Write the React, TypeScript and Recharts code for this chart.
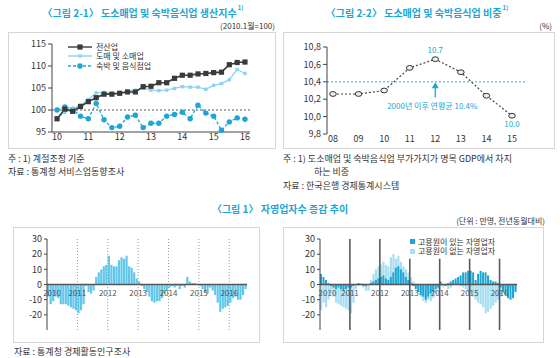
import {
  Bar,
  BarChart,
  LabelList,
  Legend,
  Line,
  LineChart,
  ReferenceLine,
  XAxis,
  YAxis,
} from "recharts"

const FONT = "'Noto Sans CJK KR', 'Noto Sans', sans-serif"
const CYAN = "#1ba6d5"
const LIGHT = "#a9dff3"
const MID = "#62c8eb"
const INK = "#333"
const AXIS = "#444"
const BOX = "#d6d6d6"

// 그림 2-1: 분기별 생산지수 (2010.1월=100)
const QUARTERS = [
  "10.1", "10.2", "10.3", "10.4", "11.1", "11.2", "11.3", "11.4",
  "12.1", "12.2", "12.3", "12.4", "13.1", "13.2", "13.3", "13.4",
  "14.1", "14.2", "14.3", "14.4", "15.1", "15.2", "15.3", "15.4", "16.1",
]
const ALL_INDUSTRY = [
  98.0, 100.2, 99.7, 100.8, 101.9, 102.8, 103.6, 103.6, 103.8, 104.1, 104.1, 105.3,
  105.4, 106.2, 106.2, 107.2, 107.9, 107.9, 108.2, 108.3, 108.5, 108.6, 110.3, 110.8, 110.9,
]
const RETAIL = [
  98.2, 99.5, 100.3, 101.1, 102.4, 103.9, 104.0, 103.7, 103.9, 104.3, 104.5, 104.9,
  104.5, 104.4, 104.5, 104.9, 105.3, 105.2, 105.2, 104.7, 105.6, 106.0, 106.9, 109.2, 108.3,
]
const LODGING = [
  100.0, 100.7, 100.2, 98.6, 98.0, 101.5, 97.8, 96.0, 96.3, 98.4, 98.8, 96.0,
  97.0, 97.0, 98.6, 99.0, 99.5, 98.0, 101.1, 99.3, 98.6, 95.4, 97.3, 98.2, 97.9,
]
const PROD_YEARS = [10, 11, 12, 13, 14, 15, 16]
const PROD_TICKS = [95, 100, 105, 110, 115]

// 그림 2-2: 도소매업 및 숙박음식업 비중 (%)
const SHARE_YEARS = ["08", "09", "10", "11", "12", "13", "14", "15"]
const SHARE = [10.26, 10.26, 10.3, 10.56, 10.66, 10.51, 10.24, 10.01]
const SHARE_AVG = 10.4
const SHARE_TICKS = [9.8, 10.0, 10.2, 10.4, 10.6, 10.8]

// 그림 1: 자영업자수 증감 (만명, 전년동월대비), 2010.01 ~ 2016.07
const YEARS = ["2010", "2011", "2012", "2013", "2014", "2015", "2016"]
const MONTHS = YEARS.flatMap((y) =>
  ["01", "02", "03", "04", "05", "06", "07", "08", "09", "10", "11", "12"].map((m) => `${y}.${m}`)
).slice(0, 79)
const SELF_EMPLOYED = [
  -8, -13, -11, -8, -9, -13, -13, -13, -14, -15, -16, -17,
  -19, -17, -13, -1, -5, -6, -4, 5, 8, 10, 12, 13,
  19, 13, 12, 12, 16, 18, 17, 19, 12, 11, 8, 4,
  2, -1, -3, -5, -8, -11, -12, -11, -11, -9, -6, -4,
  -2, -1, -2, -1, -3, -1, -2, 5, 2, 1, 1, 0,
  -1, -3, -5, -6, -2, -4, -7, -12, -18, -16, -15, -14,
  -12, -9, -8, -10, -10, -7, -3,
]
const WITH_STAFF = [
  7, 5, 3, 1, -1, -2, -3, -2, -3, -4, -3, -2,
  -2, -1, 0, 1, 0, -1, -1, 0, 1, 2, 3, 4,
  5, 6, 4, 3, 5, 8, 11, 12, 10, 8, 5, 3,
  1, -1, -3, -5, -7, -8, -10, -8, -6, -5, -3, -2,
  2, 0, -1, 1, 2, 3, 4, 5, 6, 8, 8, 9,
  9, 8, 3, 7, 9, 8, 8, 6, 3, 2, 2, 1,
  -2, -5, -7, -9, -10, -9, -5,
]
const WITHOUT_STAFF = [
  -17, -12, -15, -10, -6, -8, -12, -13, -14, -15, -16, -17,
  -19, -12, -3, -1, 1, -2, -4, -4, 3, 7, 10, 12,
  13, 15, 13, 12, 18, 20, 17, 19, 15, 12, 10, 8,
  5, 2, -2, -5, -8, -11, -12, -10, -11, -9, -6, -3,
  -1, -2, -1, -3, -2, 0, 1, 2, -1, -2, -3, -5,
  -6, -8, -10, -12, -13, -15, -19, -18, -16, -14, -12, -10,
  -8, -6, -4, -3, -2, -2, -4,
]
const CHANGE_TICKS = [-30, -20, -10, 0, 10, 20, 30]

const PROD_SERIES = [
  { key: "all", name: "전산업", color: "#3a3a3a", dash: undefined as string | undefined, marker: "square" },
  { key: "retail", name: "도매 및 소매업", color: "#8dd3ef", dash: undefined, marker: "small" },
  { key: "lodging", name: "숙박 및 음식점업", color: CYAN, dash: "3 2", marker: "circle" },
]

const toYear = (q: string) => {
  const [y, n] = q.split(".")
  return Number(y) + (Number(n) - 1) / 4
}

const prodData = QUARTERS.map((q, i) => ({
  t: toYear(q),
  all: ALL_INDUSTRY[i],
  retail: RETAIL[i],
  lodging: LODGING[i],
}))
const shareData = SHARE_YEARS.map((year, i) => ({ year, share: SHARE[i] }))
const changeData = MONTHS.map((month, i) => ({
  month,
  total: SELF_EMPLOYED[i],
  withStaff: WITH_STAFF[i],
  withoutStaff: WITHOUT_STAFF[i],
}))

function Note({ x, y, size = 9, color = INK, anchor = "start", weight = 400, children }: any) {
  const tx = anchor === "middle" ? "-50%" : anchor === "end" ? "-100%" : "0"
  return (
    <div
      style={{
        position: "absolute",
        left: x,
        top: y,
        transform: `translate(${tx}, -50%)`,
        fontSize: size,
        color,
        fontWeight: weight,
        whiteSpace: "nowrap",
        lineHeight: 1,
      }}
    >
      {children}
    </div>
  )
}

function Frame({ x, y, w, h }: { x: number; y: number; w: number; h: number }) {
  return (
    <div
      style={{
        position: "absolute",
        left: x,
        top: y,
        width: w,
        height: h,
        border: `1.5px solid ${BOX}`,
        boxSizing: "border-box",
      }}
    />
  )
}

const Sup = () => (
  <span style={{ fontSize: 6, verticalAlign: "top", lineHeight: 0, marginLeft: 1 }}>1)</span>
)

function marker(kind: string, color: string, cx: number, cy: number, key?: any) {
  if (kind === "square") return <rect key={key} x={cx - 2.6} y={cy - 2.6} width={5.2} height={5.2} fill={color} />
  if (kind === "small") return <rect key={key} x={cx - 1.7} y={cy - 1.7} width={3.4} height={3.4} fill={color} />
  return <circle key={key} cx={cx} cy={cy} r={2.7} fill={color} />
}

function ProdLegend() {
  return (
    <div style={{ fontFamily: FONT, fontSize: 8, color: INK }}>
      {PROD_SERIES.map((s) => (
        <div key={s.key} style={{ display: "flex", alignItems: "center", height: 9.5 }}>
          <svg width={24} height={8}>
            <line x1={0} y1={4} x2={24} y2={4} stroke={s.color} strokeWidth={1.4} strokeDasharray={s.dash} />
            {marker(s.marker, s.color, 12, 4)}
          </svg>
          <span style={{ marginLeft: 4, lineHeight: 1 }}>{s.name}</span>
        </div>
      ))}
    </div>
  )
}

function StaffLegend() {
  const rows = [
    { name: "고용원이 있는 자영업자", color: CYAN },
    { name: "고용원이 없는 자영업자", color: LIGHT },
  ]
  return (
    <div style={{ fontFamily: FONT, fontSize: 8, color: INK }}>
      {rows.map((r) => (
        <div key={r.name} style={{ display: "flex", alignItems: "center", height: 9.5 }}>
          <span style={{ width: 5, height: 5, background: r.color, display: "inline-block" }} />
          <span style={{ marginLeft: 3, lineHeight: "8px" }}>{r.name}</span>
        </div>
      ))}
    </div>
  )
}

const EllipseDot = (p: any) => (
  <ellipse key={`e${p.index}`} cx={p.cx} cy={p.cy} rx={3.3} ry={2.4} fill="#eee" stroke="#333" strokeWidth={1} />
)

const ShareLabel = (p: any) => {
  const { x, y, value, index } = p
  if (index !== 4 && index !== 7) return null
  return (
    <text
      x={x}
      y={index === 4 ? y - 6 : y + 11}
      textAnchor="middle"
      fontSize={8}
      fill={CYAN}
      fontFamily={FONT}
    >
      {Number(value).toFixed(1)}
    </text>
  )
}

const ArrowShape = (p: any) => {
  const x = p.x1
  const top = Math.min(p.y1, p.y2)
  const bot = Math.max(p.y1, p.y2)
  return (
    <g>
      <line x1={x} y1={bot} x2={x} y2={top + 5} stroke={CYAN} strokeWidth={1.3} />
      <polygon points={`${x - 3.5},${top + 6} ${x + 3.5},${top + 6} ${x},${top}`} fill={CYAN} />
      <text x={x - 3} y={bot + 12} textAnchor="middle" fontSize={8} fill={CYAN} fontFamily={FONT}>
        2000년 이후 연평균 {SHARE_AVG.toFixed(1)}%
      </text>
    </g>
  )
}

const yearLabel = (text: string, zeroY: number) => (p: any) => (
  <text x={p.viewBox?.x} y={zeroY + 11.5} textAnchor="middle" fontSize={8} fill="#555" fontFamily={FONT}>
    {text}
  </text>
)

const tickStyle = { fontSize: 9, fill: INK, fontFamily: FONT }
// zero line position inside bottom charts: top margin + half plot height
const ZERO_Y = 7 + 91 / 2

function ProductionChart() {
  return (
    <div style={{ position: "absolute", left: 8, top: 36 }}>
      <LineChart width={250} height={112} data={prodData} margin={{ top: 8, right: 8, bottom: 2, left: 0 }}>
        <XAxis
          type="number"
          dataKey="t"
          domain={[9.84, 16.16]}
          ticks={PROD_YEARS}
          height={14}
          tickLine={false}
          tickSize={0}
          tickMargin={2}
          axisLine={{ stroke: AXIS }}
          tick={tickStyle}
        />
        <YAxis
          domain={[95, 115]}
          ticks={PROD_TICKS}
          width={44}
          tickSize={4}
          axisLine={{ stroke: AXIS }}
          tickLine={{ stroke: AXIS }}
          tick={tickStyle}
        />
        <ReferenceLine y={100} stroke="#555" strokeDasharray="2 2" />
        <Legend
          content={<ProdLegend />}
          layout="horizontal"
          verticalAlign="middle"
          align="center"
          wrapperStyle={{ left: 60, top: 6, width: 130 }}
        />
        {[...PROD_SERIES].reverse().map((s) => (
          <Line
            key={s.key}
            dataKey={s.key}
            name={s.name}
            stroke={s.color}
            strokeWidth={s.key === "all" ? 1.6 : 1.3}
            strokeDasharray={s.dash}
            dot={(p: any) => marker(s.marker, s.color, p.cx, p.cy, `${s.key}${p.index}`)}
            activeDot={false}
            isAnimationActive={false}
          />
        ))}
      </LineChart>
    </div>
  )
}

function ShareChart() {
  return (
    <div style={{ position: "absolute", left: 285, top: 38 }}>
      <LineChart width={250} height={112} data={shareData} margin={{ top: 9, right: 10, bottom: 2, left: 0 }}>
        <XAxis
          dataKey="year"
          padding={{ left: 6, right: 13 }}
          height={14}
          axisLine={false}
          tickLine={false}
          tickSize={0}
          tickMargin={2}
          tick={tickStyle}
        />
        <YAxis
          domain={[9.8, 10.8]}
          ticks={SHARE_TICKS}
          width={42}
          tickSize={4}
          axisLine={{ stroke: AXIS }}
          tickLine={{ stroke: AXIS }}
          tick={tickStyle}
          tickFormatter={(v: number) => v.toFixed(1).replace(".", ",")}
        />
        <ReferenceLine y={SHARE_AVG} stroke="#6fcbea" strokeDasharray="2 2" strokeWidth={1.4} />
        <ReferenceLine
          segment={[
            { x: "12", y: 10.22 },
            { x: "12", y: 10.395 },
          ]}
          shape={ArrowShape}
        />
        <Line
          dataKey="share"
          stroke="#444"
          strokeWidth={1.2}
          strokeDasharray="2 2"
          dot={EllipseDot}
          activeDot={false}
          isAnimationActive={false}
        >
          <LabelList dataKey="share" content={ShareLabel} />
        </Line>
      </LineChart>
    </div>
  )
}

function TotalChangeChart() {
  return (
    <div style={{ position: "absolute", left: 14, top: 232 }}>
      <BarChart
        width={236}
        height={102}
        data={changeData}
        margin={{ top: 7, right: 3, bottom: 4, left: 0 }}
        barCategoryGap={0}
      >
        <XAxis dataKey="month" hide />
        <YAxis
          domain={[-30, 30]}
          ticks={CHANGE_TICKS}
          width={33}
          tickSize={3}
          axisLine={{ stroke: AXIS }}
          tickLine={{ stroke: AXIS }}
          tick={tickStyle}
        />
        <Bar dataKey="total" fill={MID} barSize={2.2} isAnimationActive={false} />
        {YEARS.map((y) => (
          <ReferenceLine
            key={y}
            x={y === "2010" ? "2010.03" : `${y}.01`}
            position="start"
            stroke={y === "2010" ? "none" : "#999"}
            strokeDasharray="1 2"
            label={yearLabel(y, ZERO_Y)}
          />
        ))}
        <ReferenceLine y={0} stroke="#555" strokeWidth={1.5} />
      </BarChart>
    </div>
  )
}

function StaffChangeChart() {
  return (
    <div style={{ position: "absolute", left: 285, top: 232 }}>
      <BarChart
        width={235}
        height={102}
        data={changeData}
        margin={{ top: 7, right: 3, bottom: 4, left: 0 }}
        barCategoryGap={0}
      >
        <XAxis dataKey="month" hide />
        <XAxis dataKey="month" xAxisId="dark" hide />
        <YAxis
          domain={[-30, 30]}
          ticks={CHANGE_TICKS}
          width={35}
          tickSize={3}
          axisLine={{ stroke: AXIS }}
          tickLine={{ stroke: AXIS }}
          tick={tickStyle}
        />
        <Legend
          content={<StaffLegend />}
          layout="horizontal"
          verticalAlign="middle"
          align="center"
          wrapperStyle={{ left: 125, top: 5, width: 110 }}
        />
        <Bar dataKey="withoutStaff" fill={LIGHT} barSize={2.2} isAnimationActive={false} />
        <Bar dataKey="withStaff" xAxisId="dark" fill={CYAN} barSize={2} isAnimationActive={false} />
        {YEARS.map((y) =>
          y === "2010" ? (
            <ReferenceLine key={y} x="2010.04" position="start" stroke="none" label={yearLabel(y, ZERO_Y)} />
          ) : (
            <ReferenceLine
              key={y}
              segment={[
                { x: `${y}.01`, y: y === "2011" || y === "2012" ? 30 : 17 },
                { x: `${y}.01`, y: -30 },
              ]}
              position="start"
              stroke="#5a5a5a"
              strokeWidth={1.6}
              label={yearLabel(y, ZERO_Y)}
            />
          )
        )}
        <ReferenceLine y={0} stroke="#555" strokeWidth={1.5} />
      </BarChart>
    </div>
  )
}

export default function App() {
  return (
    <div
      style={{
        position: "absolute",
        left: 0,
        top: 0,
        width: 560,
        height: 358,
        background: "#fff",
        fontFamily: FONT,
        overflow: "hidden",
      }}
    >
      <Note x={143} y={13} size={10} color={CYAN} anchor="middle" weight={700}>
        〈그림 2-1〉 도소매업 및 숙박음식업 생산지수<Sup />
      </Note>
      <Note x={275} y={26} size={8} anchor="end">
        (2010.1월=100)
      </Note>
      <Note x={417} y={13} size={10} color={CYAN} anchor="middle" weight={700}>
        〈그림 2-2〉 도소매업 및 숙박음식업 비중<Sup />
      </Note>
      <Note x={552} y={26} size={8} anchor="end">
        (%)
      </Note>

      <Frame x={8} y={32} w={268} h={117} />
      <Frame x={283} y={32} w={272} h={117} />
      <ProductionChart />
      <ShareChart />

      <Note x={8} y={158}>주 : 1) 계절조정 기준</Note>
      <Note x={8} y={171}>자료 : 통계청 서비스업동향조사</Note>
      <Note x={283} y={158}>주 : 1) 도소매업 및 숙박음식업 부가가치가 명목 GDP에서 차지</Note>
      <Note x={314} y={171}>하는 비중</Note>
      <Note x={283} y={185}>자료 : 한국은행 경제통계시스템</Note>

      <Note x={280} y={209} size={10} color={CYAN} anchor="middle" weight={700}>
        〈그림 1〉 자영업자수 증감 추이
      </Note>
      <Note x={545} y={221} size={8} anchor="end">
        (단위 : 만명, 전년동월대비)
      </Note>

      <Frame x={13} y={227} w={247} h={116} />
      <Frame x={283} y={227} w={261} h={116} />
      <TotalChangeChart />
      <StaffChangeChart />

      <Note x={14} y={351}>자료 : 통계청 경제활동인구조사</Note>
    </div>
  )
}
